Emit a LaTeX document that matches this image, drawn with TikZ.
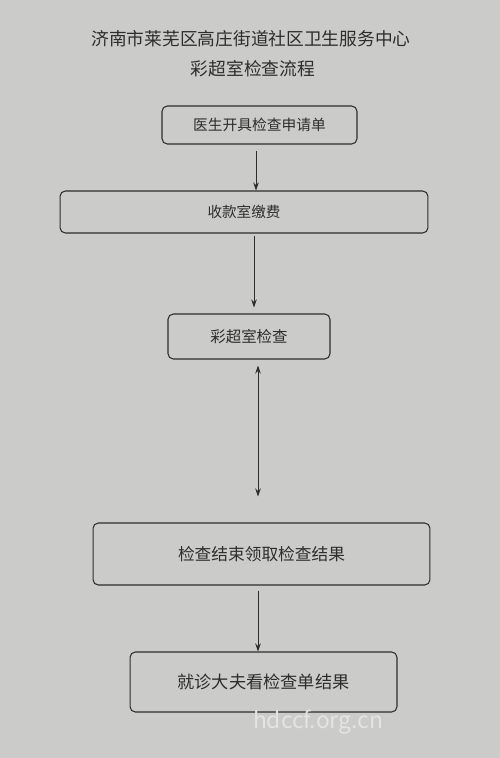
\documentclass[tikz,border=0pt]{standalone}
\usepackage{fontspec}
\setmainfont{Noto Sans CJK SC}
\usepackage{tikz}
\usetikzlibrary{arrows.meta}
\definecolor{ink}{RGB}{45,45,45}
\definecolor{paper}{RGB}{203,203,201}
\definecolor{wmark}{RGB}{228,228,228}
\tikzset{
  stepbox/.style ={rectangle, rounded corners=3pt, draw=ink, line width=0.6pt,
                   text=ink, inner sep=0pt, align=center},
  arr/.style     ={-{Stealth[length=1.6mm, width=1.1mm]}, line width=0.5pt, color=ink},
  dblarr/.style  ={arr, {Stealth[length=1.6mm, width=1.1mm]}-{Stealth[length=1.6mm, width=1.1mm]}},
  titletext/.style={text=ink, inner sep=0pt},
}

\begin{document}
\begin{tikzpicture}[x=0.02cm, y=-0.02cm]
\fill[paper] (0,0) rectangle (500,758);

\node[titletext, font=\fontsize{10.1pt}{12pt}\selectfont] (title1) at (251,39)
  {济南市莱芜区高庄街道社区卫生服务中心};
\node[titletext, font=\fontsize{10.1pt}{12pt}\selectfont] (title2) at (253,69)
  {彩超室检查流程};

\node[stepbox, minimum width=3.9cm, minimum height=0.76cm,
      font=\fontsize{8.4pt}{10pt}\selectfont] (apply) at (259.5,125) {医生开具检查申请单};
\node[stepbox, minimum width=7.36cm, minimum height=0.84cm,
      font=\fontsize{8.3pt}{10pt}\selectfont] (pay) at (244,212) {收款室缴费};
\node[stepbox, minimum width=3.24cm, minimum height=0.9cm,
      font=\fontsize{8.8pt}{10pt}\selectfont] (scan) at (249,336.5) {彩超室检查};
\node[stepbox, minimum width=6.74cm, minimum height=1.24cm,
      font=\fontsize{9.5pt}{11pt}\selectfont] (result) at (261.5,554) {检查结束领取检查结果};
\node[stepbox, minimum width=5.34cm, minimum height=1.2cm,
      font=\fontsize{9.8pt}{11pt}\selectfont] (visit) at (263.5,682) {就诊大夫看检查单结果};

\node[text=wmark, font=\fontsize{13pt}{13pt}\selectfont] (site) at (318,722) {hdccf.org.cn};

\draw[arr, shorten <=0.12cm] ([xshift=-0.07cm]apply.south) -- ([xshift=-0.07cm]apply.south |- pay.north);
\draw[arr, shorten <=0.04cm, shorten >=0.12cm] ([xshift=0.1cm]scan.north |- pay.south) -- ([xshift=0.1cm]scan.north);
\draw[dblarr, shorten <=0.12cm, shorten >=0.52cm] ([xshift=0.18cm]scan.south) -- ([xshift=0.18cm]scan.south |- result.north);
\draw[arr, shorten <=0.1cm] ([xshift=-0.11cm]visit.north |- result.south) -- ([xshift=-0.11cm]visit.north);
\end{tikzpicture}
\end{document}
